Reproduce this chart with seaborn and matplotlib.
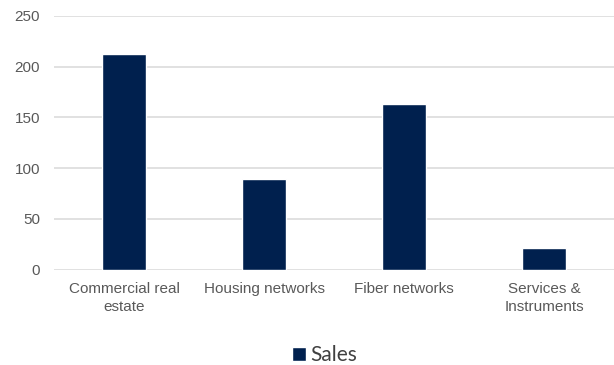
import matplotlib
matplotlib.use("Agg")
import matplotlib.pyplot as plt
import seaborn as sns
import pandas as pd

categories = ["Commercial real\nestate", "Housing networks", "Fiber networks", "Services &\nInstruments"]
sales = [212, 89, 163, 21]
y_ticks = [0, 50, 100, 150, 200, 250]
series_name = "Sales"

sns.set_theme(style="white")
plt.rcParams['font.family'] = ['Liberation Sans', 'DejaVu Sans']

df = pd.DataFrame({"category": categories, "value": sales})

fig = plt.figure(figsize=(6.14, 3.65), dpi=100)
ax = fig.add_axes([0.088, 0.261, 0.912, 0.696])

bar_color = "#00204E"
sns.barplot(data=df, x="category", y="value", color=bar_color, width=0.314,
            saturation=1, ax=ax, label=series_name, zorder=3)

ax.set_ylim(0, 250)
ax.set_xlim(-0.5, 3.5)
ax.set_yticks(y_ticks)
ax.yaxis.grid(True, color="#d9d9d9", linewidth=1.1, zorder=0)
ax.xaxis.grid(False)
for s in ax.spines.values():
    s.set_visible(False)
ax.set_xlabel("")
ax.set_ylabel("")
ax.tick_params(axis="y", length=0, pad=10, labelsize=11, labelcolor="#595959")
ax.tick_params(axis="x", length=0, pad=8.5, labelsize=11, labelcolor="#595959")
for lbl in ax.get_xticklabels():
    lbl.set_linespacing(1.38)

leg = ax.get_legend()
if leg is not None:
    leg.remove()
handles, labels = ax.get_legend_handles_labels()
fig.legend(handles[:1], labels[:1], loc="center", bbox_to_anchor=(0.528, 0.027),
           frameon=False, handlelength=0.67, handleheight=0.67, handletextpad=0.2,
           prop={"family": "Lato", "size": 15}, labelcolor="#404040",
           borderpad=0, borderaxespad=0)

fig.savefig("out.png", dpi=100)
